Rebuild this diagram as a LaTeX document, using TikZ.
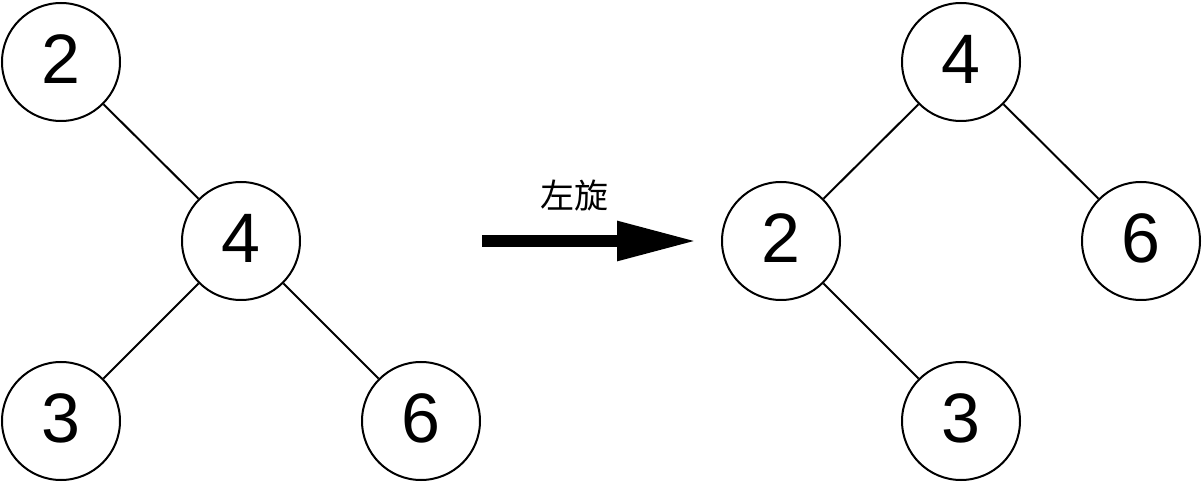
\documentclass[tikz,border=0pt]{standalone}
\usepackage{fontspec}
\setmainfont{Liberation Sans}
\newfontfamily\cjk{Noto Sans CJK SC}
\usetikzlibrary{arrows.meta}
\begin{document}
\begin{tikzpicture}[x=1pt,y=-1pt,
  tnode/.style={circle,draw=black,line width=2pt,minimum size=118pt,inner sep=0pt,text depth=6pt,font=\fontsize{70}{70}\selectfont},
  tedge/.style={draw=black,line width=2pt},
  bigarrow/.style={line width=12pt,-{Triangle[length=80pt,width=37pt]}}]
\useasboundingbox (0,0) rectangle (1203,486);
% left tree
\node[tnode] (l2) at (61,62) {2};
\node[tnode] (l4) at (241,241) {4};
\node[tnode] (l3) at (61,421) {3};
\node[tnode] (l6) at (421,421) {6};
\draw[tedge] (l2) -- (l4);
\draw[tedge] (l4) -- (l3);
\draw[tedge] (l4) -- (l6);
% right tree
\node[tnode] (r4) at (961,62) {4};
\node[tnode] (r2) at (781,241) {2};
\node[tnode] (r6) at (1141,241) {6};
\node[tnode] (r3) at (961,421) {3};
\draw[tedge] (r4) -- (r2);
\draw[tedge] (r4) -- (r6);
\draw[tedge] (r2) -- (r3);
% arrow
\coordinate (a0) at (482,241);
\coordinate (a1) at (697,241);
\draw[bigarrow] (a0) -- (a1);
\node[font=\cjk\fontsize{34}{34}\selectfont] (lbl) at (574,196) {左旋};
\end{tikzpicture}
\end{document}
